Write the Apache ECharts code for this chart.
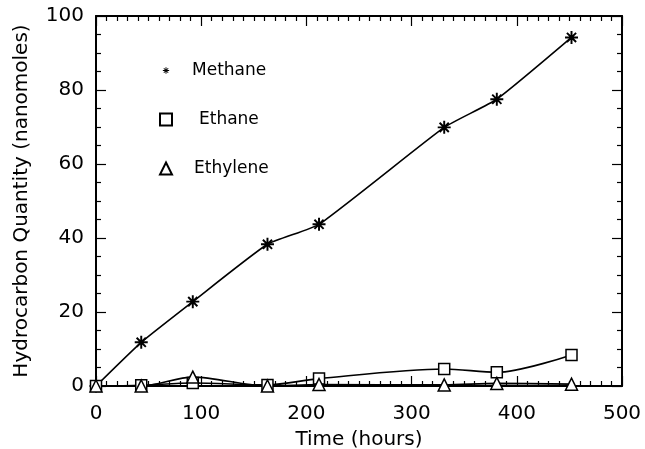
<!DOCTYPE html>
<html>
<head>
<meta charset="utf-8">
<script src="https://cdn.jsdelivr.net/npm/echarts@6/dist/echarts.min.js"></script>
<style>
html,body{margin:0;padding:0;background:#fff;}
#chart{width:645px;height:449px;}
</style>
</head>
<body>
<div id="chart"></div>
<script>
// ---- data ----
var times    = [0, 43, 92, 163, 212, 331, 381, 452];
var methane  = [0, 11.8, 22.8, 38.3, 43.7, 69.9, 77.5, 94.2];
var ethane   = [0, 0.2, 0.8, 0.3, 2.0, 4.6, 3.7, 8.4];
var ethylene = [0, 0, 2.4, 0, 0.4, 0.3, 0.7, 0.5];
var seriesNames = ['Methane', 'Ethane', 'Ethylene'];
var xTicks = [0, 100, 200, 300, 400, 500];
var yTicks = [0, 20, 40, 60, 80, 100];
var xTitle = 'Time (hours)';
var yTitle = 'Hydrocarbon Quantity (nanomoles)';

function pairs(xs, ys){ return xs.map(function(x,i){ return [x, ys[i]]; }); }

var asterisk = 'path://M-1.5,-10L1.5,-10L1.5,10L-1.5,10Z' +
  'M-10,-1.5L10,-1.5L10,1.5L-10,1.5Z' +
  'M8.13,6.01L6.01,8.13L-8.13,-6.01L-6.01,-8.13Z' +
  'M6.01,-8.13L8.13,-6.01L-6.01,8.13L-8.13,6.01Z';
var asteriskSmall = asterisk + 'M-19,-19L-19,-19M19,19L19,19';

var FONT = 'DejaVu Sans';
var chart = echarts.init(document.getElementById('chart'));

function axisCommon(extra){
  var base = {
    type: 'value',
    axisLine: {show: true, onZero: false, lineStyle: {color: '#000', width: 2}},
    axisTick: {show: true, inside: true, length: 10, lineStyle: {color: '#000', width: 1.2}},
    splitLine: {show: false},
    minorSplitLine: {show: false}
  };
  for (var k in extra) base[k] = extra[k];
  return base;
}

var xMin = xTicks[0], xMax = xTicks[xTicks.length-1], xInt = xTicks[1]-xTicks[0];
var yMin = yTicks[0], yMax = yTicks[yTicks.length-1], yInt = yTicks[1]-yTicks[0];

var xLabelStyle = {show: true, color: '#000', fontFamily: FONT, fontSize: 20, margin: 18};
var yLabelStyle = {show: true, color: '#000', fontFamily: FONT, fontSize: 20, margin: 12};
var xMinor = {show: true, splitNumber: 10, length: 5, lineStyle: {color: '#000', width: 1.2}};
var yMinor = {show: true, splitNumber: 4, length: 5, lineStyle: {color: '#000', width: 1.2}};

var option = {
  backgroundColor: '#fff',
  animation: false,
  grid: {left: 96, right: 23, top: 16, bottom: 63, containLabel: false, outerBoundsMode: 'none'},
  legend: {
    orient: 'vertical',
    left: 154, top: 57,
    itemWidth: 12, itemHeight: 12,
    itemGap: 32,
    textStyle: {color: '#000', fontFamily: FONT, fontSize: 17},
    data: [
      {name: seriesNames[0], icon: asteriskSmall, textStyle: {padding: [0,0,0,15]}},
      {name: seriesNames[1], icon: 'rect', textStyle: {padding: [0,0,0,22]}},
      {name: seriesNames[2], icon: 'triangle', textStyle: {padding: [0,0,0,17]}}
    ]
  },
  xAxis: [
    axisCommon({position: 'bottom', min: xMin, max: xMax, interval: xInt,
      minorTick: xMinor,
      axisLabel: xLabelStyle,
      name: xTitle, nameLocation: 'middle', nameGap: 44,
      nameTextStyle: {color: '#000', fontFamily: FONT, fontSize: 20}}),
    axisCommon({position: 'top', min: xMin, max: xMax, interval: xInt,
      minorTick: xMinor,
      axisLabel: {show: false}})
  ],
  yAxis: [
    axisCommon({position: 'left', min: yMin, max: yMax, interval: yInt,
      minorTick: yMinor,
      axisLabel: yLabelStyle,
      name: yTitle, nameLocation: 'middle', nameGap: 64,
      nameTextStyle: {color: '#000', fontFamily: FONT, fontSize: 20}}),
    axisCommon({position: 'right', min: yMin, max: yMax, interval: yInt,
      minorTick: yMinor,
      axisLabel: {show: false}})
  ],
  series: [
    {
      name: seriesNames[0], type: 'line', smooth: 0.15, clip: false,
      data: pairs(times, methane),
      symbol: asterisk, symbolSize: 13,
      itemStyle: {color: '#000'},
      lineStyle: {color: '#000', width: 1.6}
    },
    {
      name: seriesNames[1], type: 'line', smooth: 0.3, clip: false,
      data: pairs(times, ethane),
      symbol: 'rect', symbolSize: 11,
      itemStyle: {color: '#fff', borderColor: '#000', borderWidth: 1.5},
      lineStyle: {color: '#000', width: 1.6}
    },
    {
      name: seriesNames[2], type: 'line', smooth: 0.3, clip: false,
      data: pairs(times, ethylene),
      symbol: 'triangle', symbolSize: 12,
      itemStyle: {color: '#fff', borderColor: '#000', borderWidth: 1.5},
      lineStyle: {color: '#000', width: 1.6}
    }
  ]
};
chart.setOption(option);
</script>
</body>
</html>
